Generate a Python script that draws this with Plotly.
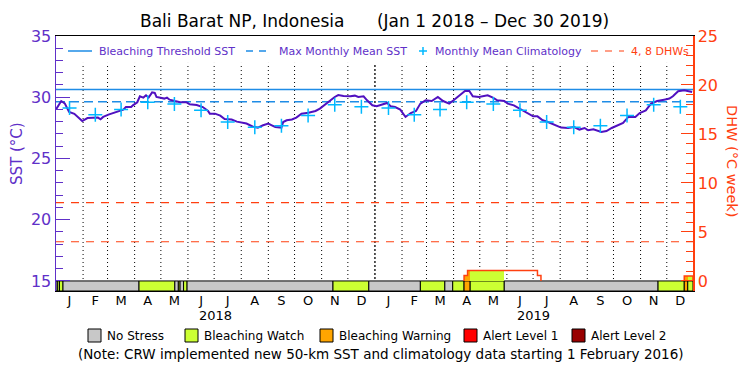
import plotly.graph_objects as go
import pandas as pd

# ---------------- data ----------------
sst_dates = [
    "2018-01-01", "2018-01-04", "2018-01-07", "2018-01-11", "2018-01-16", "2018-01-22", "2018-01-31",
    "2018-02-06", "2018-02-12", "2018-02-18", "2018-02-21", "2018-02-24", "2018-03-02", "2018-03-07",
    "2018-03-13", "2018-03-17", "2018-03-19", "2018-03-22", "2018-03-28", "2018-03-30", "2018-04-04",
    "2018-04-07", "2018-04-11", "2018-04-14", "2018-04-17", "2018-04-21", "2018-04-24", "2018-04-26",
    "2018-05-02", "2018-05-05", "2018-05-08", "2018-05-11", "2018-05-17", "2018-05-23", "2018-05-30",
    "2018-06-03", "2018-06-11", "2018-06-18", "2018-06-24", "2018-06-26", "2018-07-02", "2018-07-08",
    "2018-07-13", "2018-07-21", "2018-07-27", "2018-08-01", "2018-08-07", "2018-08-15", "2018-08-20",
    "2018-08-26", "2018-09-01", "2018-09-05", "2018-09-09", "2018-09-16", "2018-09-18", "2018-09-22",
    "2018-09-28", "2018-10-03", "2018-10-09", "2018-10-17", "2018-10-25", "2018-10-30", "2018-11-05",
    "2018-11-11", "2018-11-16", "2018-11-20", "2018-11-26", "2018-12-04", "2018-12-09", "2018-12-13",
    "2018-12-19", "2018-12-23", "2018-12-29", "2019-01-03", "2019-01-09", "2019-01-15", "2019-01-19",
    "2019-01-24", "2019-01-30", "2019-02-05", "2019-02-11", "2019-02-17", "2019-02-22", "2019-02-28",
    "2019-03-07", "2019-03-14", "2019-03-20", "2019-03-27", "2019-04-01", "2019-04-08", "2019-04-14",
    "2019-04-19", "2019-04-23", "2019-04-30", "2019-05-10", "2019-05-16", "2019-05-21", "2019-05-29",
    "2019-06-02", "2019-06-09", "2019-06-17", "2019-06-25", "2019-07-01", "2019-07-06", "2019-07-12",
    "2019-07-18", "2019-07-26", "2019-08-02", "2019-08-10", "2019-08-17", "2019-08-23", "2019-08-29",
    "2019-09-02", "2019-09-08", "2019-09-17", "2019-09-23", "2019-09-29", "2019-10-07", "2019-10-12",
    "2019-10-18", "2019-10-26", "2019-10-31", "2019-11-07", "2019-11-13", "2019-11-20", "2019-11-28",
    "2019-12-04", "2019-12-08", "2019-12-14", "2019-12-21", "2019-12-27", "2019-12-30",
]
sst_values = [
    29.00, 29.30, 29.69, 29.50, 28.80, 28.65, 28.06,
    28.30, 28.34, 28.34, 28.20, 28.39, 28.58, 28.71,
    28.88, 28.93, 28.99, 29.20, 29.20, 29.34, 29.59,
    30.08, 29.97, 30.16, 29.97, 30.40, 30.35, 30.02,
    29.94, 29.89, 29.97, 29.80, 29.69, 29.59, 29.59,
    29.42, 29.37, 29.20, 28.88, 28.66, 28.66, 28.50,
    28.22, 28.18, 28.01, 27.96, 27.85, 27.57, 27.52,
    27.71, 27.85, 27.71, 27.57, 27.52, 27.98, 28.12,
    28.18, 28.34, 28.66, 28.74, 28.88, 29.07, 29.42,
    29.75, 30.02, 30.18, 30.10, 30.08, 30.13, 30.02,
    30.08, 29.75, 29.34, 29.26, 29.42, 29.53, 29.26,
    29.20, 28.99, 28.39, 28.71, 28.88, 29.48, 29.75,
    29.69, 30.02, 29.69, 29.48, 29.75, 30.16, 30.51,
    30.51, 30.08, 30.02, 30.16, 29.97, 29.75, 29.69,
    29.48, 29.34, 28.99, 28.66, 28.44, 28.44, 28.12,
    27.98, 27.71, 27.52, 27.49, 27.57, 27.36, 27.49,
    27.30, 27.38, 27.16, 27.24, 27.49, 27.77, 27.90,
    28.39, 28.39, 28.71, 28.93, 29.48, 29.69, 29.80,
    29.89, 30.08, 30.49, 30.57, 30.51, 30.43,
]

clim_month_values = [29.13, 28.58, 29.00, 29.60, 29.45, 28.93, 27.98, 27.55, 27.67, 28.50, 29.39, 29.23]
years = [2018, 2019]
month_letters = ["J", "F", "M", "A", "M", "J", "J", "A", "S", "O", "N", "D"]

mmm_sst = 29.63
bleaching_threshold_sst = 30.63
dhw_reference_levels = [4, 8]

stress_starts = ["2018-01-01", "2018-01-03", "2018-01-05", "2018-01-09", "2018-04-06", "2018-05-17",
                 "2018-05-21", "2018-05-23", "2018-05-27", "2018-05-31", "2018-11-14", "2018-12-25",
                 "2019-02-22", "2019-03-22", "2019-03-31", "2019-04-13", "2019-04-20", "2019-05-29",
                 "2019-11-21", "2019-12-21", "2019-12-25"]
stress_ends = ["2018-01-03", "2018-01-05", "2018-01-09", "2018-04-06", "2018-05-17", "2018-05-21",
               "2018-05-23", "2018-05-27", "2018-05-31", "2018-11-14", "2018-12-25", "2019-02-22",
               "2019-03-22", "2019-03-31", "2019-04-13", "2019-04-20", "2019-05-29", "2019-11-21",
               "2019-12-21", "2019-12-25", "2019-12-31"]
stress_levels = [0, 1, 1, 0, 1, 0, 1, 0, 1, 0, 1, 0, 1, 0, 1, 2, 1, 0, 1, 2, 1]

dhw_seg_starts = ["2019-04-13", "2019-04-17", "2019-04-20", "2019-05-29", "2019-07-06", "2019-12-21", "2019-12-25"]
dhw_seg_ends = ["2019-04-17", "2019-04-20", "2019-05-29", "2019-07-06", "2019-07-10", "2019-12-25", "2019-12-31"]
dhw_seg_values = [0.55, 1.06, 1.06, 1.06, 0.55, 0.50, 0.50]
dhw_seg_levels = [2, 2, 1, 0, 0, 2, 1]

stress_labels = ["No Stress", "Bleaching Watch", "Bleaching Warning", "Alert Level 1", "Alert Level 2"]
stress_colors = ["#C8C8C8", "#CCFF33", "#FFA500", "#FF0000", "#990000"]

legend_labels = ["Bleaching Threshold SST", "Max Monthly Mean SST", "Monthly Mean Climatology", "4, 8 DHWs"]

# ---------------- styling constants ----------------
X_START, X_END = "2018-01-01", "2019-12-31"
Y_MIN, Y_MAX = 14.18, 35
Y2_MIN, Y2_MAX = -1.025, 25
GRID_TOP = 32.8          # month separators stop below the legend row
PURPLE = "#6030C8"
SST_COLOR = "#5010C0"
THRESH_COLOR = "#1E8CE6"
CLIM_COLOR = "#00B8FF"
ORANGE = "#FF4010"
FONT = "DejaVu Sans"

W, H = 750, 375
ML, MR, MT, MB = 56, 57, 36, 84
PW, PH = W - ML - MR, H - MT - MB


def px(xp):
    return (xp - ML) / PW


def py(yp):
    return (H - MB - yp) / PH


fig = go.Figure()

# month structure
month_starts = pd.date_range("2018-01-01", "2020-01-01", freq="MS")
month_mids = [s + (e - s) / 2 for s, e in zip(month_starts[:-1], month_starts[1:])]
year_starts = [pd.Timestamp("%d-01-01" % y) for y in years[1:]]
clim_x = month_mids
clim_y = clim_month_values * len(years)

# month separators (dotted) and year separator (denser dots)
gx, gy = [], []
for d in month_starts[1:-1]:
    if d in year_starts:
        continue
    gx += [d, d, None]
    gy += [Y_MIN, GRID_TOP, None]
fig.add_trace(go.Scatter(x=gx, y=gy, mode="lines", line=dict(color="black", width=1, dash="1px,3px"),
                         hoverinfo="skip", name="months"))
yx, yy = [], []
for d in year_starts:
    yx += [d, d, None]
    yy += [Y_MIN, GRID_TOP, None]
fig.add_trace(go.Scatter(x=yx, y=yy, mode="lines", line=dict(color="black", width=1.3, dash="2px,2px"),
                         hoverinfo="skip", name="years"))

# horizontal reference lines
fig.add_trace(go.Scatter(x=[X_START, X_END], y=[bleaching_threshold_sst] * 2, mode="lines",
                         line=dict(color=THRESH_COLOR, width=1.5), name=legend_labels[0]))
fig.add_trace(go.Scatter(x=[X_START, X_END], y=[mmm_sst] * 2, mode="lines",
                         line=dict(color=THRESH_COLOR, width=1.5, dash="9px,5px"),
                         name=legend_labels[1]))

# SST
fig.add_trace(go.Scatter(x=sst_dates, y=sst_values, mode="lines",
                         line=dict(color=SST_COLOR, width=2), name="SST"))

# climatology
fig.add_trace(go.Scatter(x=clim_x, y=clim_y, mode="markers",
                         marker=dict(symbol="cross-thin", size=10, line=dict(color=CLIM_COLOR, width=1.5),
                                     color=CLIM_COLOR),
                         name=legend_labels[2]))

# DHW reference lines (on DHW axis)
dx, dy = [], []
for lv in dhw_reference_levels:
    dx += [X_START, X_END, None]
    dy += [lv, lv, None]
fig.add_trace(go.Scatter(x=dx, y=dy, yaxis="y2", mode="lines",
                         line=dict(color=ORANGE, width=1.2, dash="8px,7px"),
                         name=legend_labels[3]))

# stress bar
s0 = pd.to_datetime(stress_starts)
s1 = pd.to_datetime(stress_ends)
fig.add_trace(go.Bar(
    x=[a + (b - a) / 2 for a, b in zip(s0, s1)],
    y=[0 - Y2_MIN] * len(s0),
    base=[Y2_MIN] * len(s0),
    width=[(b - a).total_seconds() * 1000 for a, b in zip(s0, s1)],
    marker=dict(color=[stress_colors[l] for l in stress_levels], line=dict(color="black", width=1)),
    yaxis="y2", hoverinfo="skip"))

# DHW fill coloured by stress level
d0 = pd.to_datetime(dhw_seg_starts)
d1 = pd.to_datetime(dhw_seg_ends)
fx, fy, fw, fc = [], [], [], []
for a, b, v, l in zip(d0, d1, dhw_seg_values, dhw_seg_levels):
    if l > 0:
        fx.append(a + (b - a) / 2)
        fy.append(v)
        fw.append((b - a).total_seconds() * 1000)
        fc.append(stress_colors[l])
fig.add_trace(go.Bar(x=fx, y=fy, base=[0] * len(fx), width=fw,
                     marker=dict(color=fc, line=dict(width=0)),
                     yaxis="y2", hoverinfo="skip"))

# DHW step line
lx, ly = [], []
prev_end = None
for a, b, v in zip(dhw_seg_starts, dhw_seg_ends, dhw_seg_values):
    if a != prev_end:
        if prev_end is not None:
            lx += [prev_end, None]
            ly += [0, None]
        lx.append(a)
        ly.append(0)
    lx += [a, b]
    ly += [v, v]
    prev_end = b
lx.append(prev_end)
ly.append(0)
fig.add_trace(go.Scatter(x=lx, y=ly, yaxis="y2", mode="lines",
                         line=dict(color=ORANGE, width=1.5), hoverinfo="skip"))

# ---------------- layout ----------------
fig.update_layout(
    width=W, height=H,
    margin=dict(l=ML, r=MR, t=MT, b=MB, autoexpand=False),
    paper_bgcolor="white", plot_bgcolor="white",
    font=dict(family=FONT, color="black"),
    barmode="overlay", bargap=0,
    showlegend=False,
    hovermode=False,
    xaxis=dict(type="date", range=[X_START, X_END], automargin=False,
               tickmode="array", tickvals=month_mids, ticktext=month_letters * len(years),
               ticks="", showgrid=False, zeroline=False, ticklabelstandoff=-3,
               showline=True, linecolor="black", linewidth=1, mirror=True,
               tickfont=dict(size=13, color="black", family=FONT)),
    yaxis=dict(range=[Y_MIN, Y_MAX], automargin=False, tickmode="array", tickvals=[15, 20, 25, 30, 35],
               ticks="inside", ticklen=14, tickcolor=PURPLE, tickwidth=1,
               showline=True, linecolor=PURPLE, linewidth=1.5,
               tickfont=dict(size=16, color=PURPLE, family=FONT),
               showgrid=False, zeroline=False,
               minor=dict(dtick=1, ticks="inside", ticklen=7, tickcolor=PURPLE, tickwidth=1, showgrid=False)),
    yaxis2=dict(range=[Y2_MIN, Y2_MAX], automargin=False, overlaying="y", side="right",
                tickmode="array", tickvals=[0, 5, 10, 15, 20, 25],
                ticks="inside", ticklen=12, tickcolor=ORANGE, tickwidth=1,
                showline=True, linecolor=ORANGE, linewidth=1.5,
                tickfont=dict(size=16, color=ORANGE, family=FONT),
                showgrid=False, zeroline=False,
                minor=dict(dtick=1, ticks="inside", ticklen=7, tickcolor=ORANGE, tickwidth=1, showgrid=False)),
)

annotations = []
shapes = []

# top legend (manual)
LEG_Y = py(51)
shapes.append(dict(type="line", xref="paper", yref="paper", x0=px(68), x1=px(92), y0=LEG_Y, y1=LEG_Y,
                   line=dict(color=THRESH_COLOR, width=1.5)))
shapes.append(dict(type="line", xref="paper", yref="paper", x0=px(246), x1=px(272), y0=LEG_Y, y1=LEG_Y,
                   line=dict(color=THRESH_COLOR, width=1.5, dash="7px,6px")))
shapes.append(dict(type="line", xref="paper", yref="paper", x0=px(419), x1=px(427), y0=LEG_Y, y1=LEG_Y,
                   line=dict(color=CLIM_COLOR, width=1.5)))
shapes.append(dict(type="line", xref="paper", yref="paper", x0=px(423), x1=px(423), y0=py(47), y1=py(55),
                   line=dict(color=CLIM_COLOR, width=1.5)))
shapes.append(dict(type="line", xref="paper", yref="paper", x0=px(591), x1=px(624), y0=LEG_Y, y1=LEG_Y,
                   line=dict(color=ORANGE, width=1.2, dash="7px,7px")))
for xl, lab, col in zip([97, 277, 433, 629], legend_labels, [PURPLE, PURPLE, PURPLE, ORANGE]):
    annotations.append(dict(text=lab, xref="paper", yref="paper", x=px(xl), y=LEG_Y,
                            xanchor="left", yanchor="middle", showarrow=False,
                            font=dict(size=11, color=col, family=FONT)))

# title
annotations.append(dict(text="Bali Barat NP, Indonesia\u00a0\u00a0\u00a0\u00a0\u00a0\u00a0(Jan 1 2018 \u2013 Dec 30 2019)",
                        xref="paper", yref="paper", x=px(375), y=py(21), xanchor="center", yanchor="middle",
                        showarrow=False, font=dict(size=17, color="black", family=FONT)))
# axis titles
annotations.append(dict(text="SST (\u00b0C)", xref="paper", yref="paper", x=px(17), y=py(154),
                        textangle=-90, showarrow=False, xanchor="center", yanchor="middle",
                        font=dict(size=15, color=PURPLE, family=FONT)))
annotations.append(dict(text="DHW (\u00b0C week)", xref="paper", yref="paper", x=px(732), y=py(161),
                        textangle=90, showarrow=False, xanchor="center", yanchor="middle",
                        font=dict(size=14.5, color=ORANGE, family=FONT)))
# year labels
for yr in years:
    annotations.append(dict(text=str(yr), xref="x", yref="paper", x="%d-07-02" % yr, y=py(315),
                            showarrow=False, xanchor="center", yanchor="middle",
                            font=dict(size=13, color="black", family=FONT)))
# bottom stress legend
sq_left = [88, 185, 320, 464, 572]
for lx0, lab, col in zip(sq_left, stress_labels, stress_colors):
    shapes.append(dict(type="rect", xref="paper", yref="paper",
                       x0=px(lx0), x1=px(lx0 + 13), y0=py(342), y1=py(329),
                       fillcolor=col, line=dict(color="black", width=1)))
    annotations.append(dict(text=lab, xref="paper", yref="paper", x=px(lx0 + 17), y=py(335.5),
                            xanchor="left", yanchor="middle", showarrow=False,
                            font=dict(size=12, color="black", family=FONT)))
annotations.append(dict(text="(Note: CRW implemented new 50-km SST and climatology data starting 1 February 2016)",
                        xref="paper", yref="paper", x=px(381), y=py(354), xanchor="center", yanchor="middle",
                        showarrow=False, font=dict(size=13.5, color="black", family=FONT)))

fig.update_layout(annotations=annotations, shapes=shapes)

fig.write_html("out.html", config={"displayModeBar": False, "staticPlot": True},
               post_script="document.body.style.margin='0px';document.body.style.overflow='hidden';")
